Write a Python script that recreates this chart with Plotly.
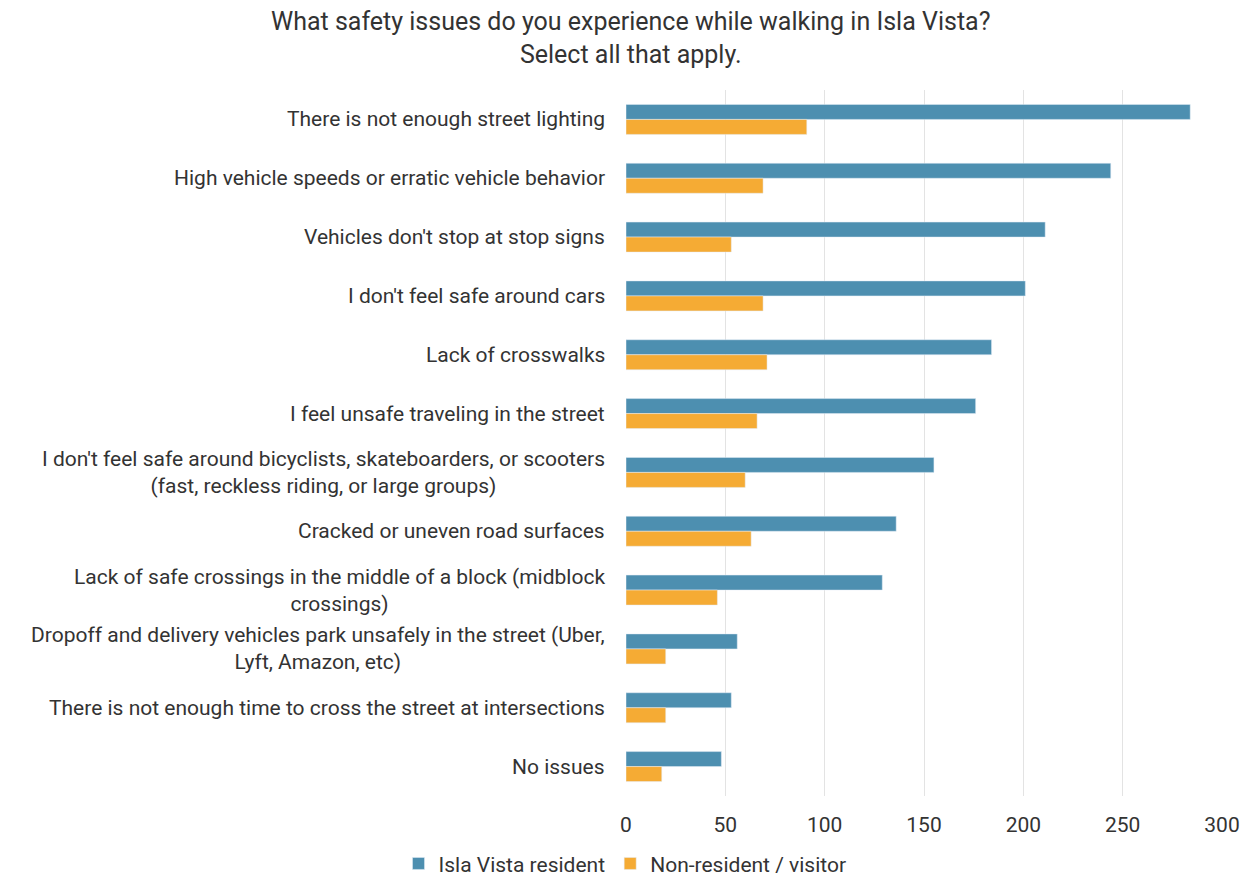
import plotly.graph_objects as go

# Survey responses: walking safety issues in Isla Vista
issues = [
    "There is not enough street lighting",
    "High vehicle speeds or erratic vehicle behavior",
    "Vehicles don't stop at stop signs",
    "I don't feel safe around cars",
    "Lack of crosswalks",
    "I feel unsafe traveling in the street",
    "I don't feel safe around bicyclists, skateboarders, or scooters<br>(fast, reckless riding, or large groups)",
    "Cracked or uneven road surfaces",
    "Lack of safe crossings in the middle of a block (midblock<br>crossings)",
    "Dropoff and delivery vehicles park unsafely in the street (Uber,<br>Lyft, Amazon, etc)",
    "There is not enough time to cross the street at intersections",
    "No issues",
]
residents = [284, 244, 211, 201, 184, 176, 155, 136, 129, 56, 53, 48]
visitors = [91, 69, 53, 69, 71, 66, 60, 63, 46, 20, 20, 18]
x_ticks = [0, 50, 100, 150, 200, 250, 300]

FONT = "Roboto, 'Open Sans', sans-serif"
TEXT = "#333333"
SIZE = 21

fig = go.Figure()
fig.add_trace(go.Bar(
    y=issues, x=residents, orientation="h",
    name="Isla Vista resident", marker_color="#4D8FB0",
))
fig.add_trace(go.Bar(
    y=issues, x=visitors, orientation="h",
    name="Non-resident / visitor", marker_color="#F5AB34",
))

# Category labels: block right-aligned against the axis, wrapped lines centred
for label in issues:
    fig.add_annotation(
        x=0, xref="paper", xanchor="right", xshift=-19,
        y=label, yref="y", yanchor="middle",
        text=label, showarrow=False, align="center",
        font=dict(family=FONT, size=SIZE, color=TEXT),
    )

# Two-line chart title
fig.add_annotation(
    x=0.007, xref="paper", xanchor="center",
    y=1.12, yref="paper", yanchor="top",
    text="What safety issues do you experience while walking in Isla Vista?<br>Select all that apply.",
    showarrow=False, align="center",
    font=dict(family=FONT, size=25, color=TEXT),
)

fig.update_layout(
    width=1250, height=878,
    margin=dict(l=626, r=28, t=90, b=82, autoexpand=False),
    paper_bgcolor="white", plot_bgcolor="white",
    barmode="group", bargap=0.49, bargroupgap=0,
    font=dict(family=FONT, size=SIZE, color=TEXT),
    legend=dict(
        orientation="h", x=0.5, xref="container", xanchor="center",
        y=-0.067, yref="paper", yanchor="top",
        font=dict(family=FONT, size=SIZE, color=TEXT),
        traceorder="normal", itemwidth=30,
    ),
    showlegend=True,
)
fig.update_xaxes(
    range=[0, 300], tickvals=x_ticks, automargin=False,
    showgrid=True, gridcolor="#E3E3E3", gridwidth=1,
    zeroline=False, showline=False, ticks="",
    ticklabelstandoff=14,
)
fig.update_yaxes(
    autorange="reversed", showgrid=False, zeroline=False, automargin=False,
    showline=False, ticks="", showticklabels=False,
)

fig.write_html("out.html")
